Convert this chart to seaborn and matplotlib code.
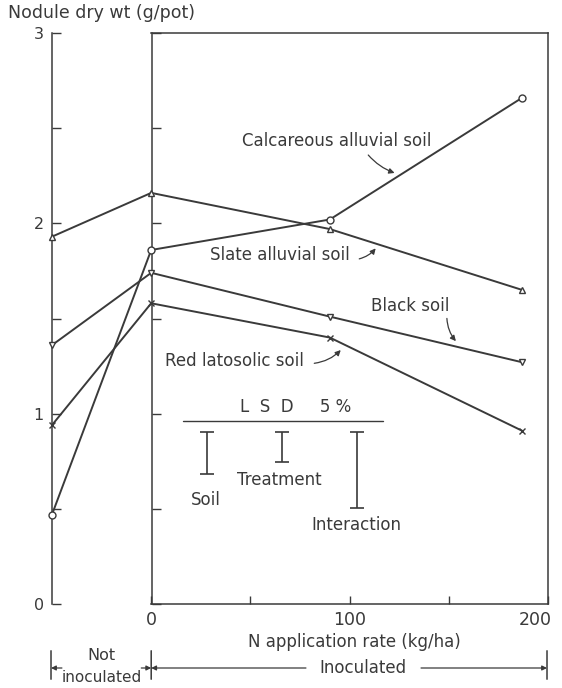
import numpy as np
import pandas as pd
import matplotlib
matplotlib.use("Agg")
import matplotlib.pyplot as plt
import matplotlib.transforms as mtrans
import seaborn as sns

# ---------------- data ----------------
n_rate = [-50, 0, 90, 187]          # -50 = not inoculated
calcareous = [0.47, 1.86, 2.02, 2.66]
slate = [1.93, 2.16, 1.97, 1.65]
black = [1.36, 1.74, 1.51, 1.27]
red = [0.94, 1.58, 1.40, 0.91]
soils = ["Calcareous alluvial soil", "Slate alluvial soil", "Black soil", "Red latosolic soil"]
soil_markers = ["o", "^", "v", "x"]

lsd_names = ["Soil", "Treatment", "Interaction"]
lsd_values = [0.22, 0.16, 0.40]

y_ticks = [0, 0.5, 1, 1.5, 2, 2.5, 3]
y_ticklabels = ["0", "", "1", "", "2", "", "3"]
x_ticks = [0, 50, 100, 150, 200]
x_ticklabels = ["0", "", "100", "", "200"]

rows = []
for name, vals in zip(soils, [calcareous, slate, black, red]):
    for x, v in zip(n_rate, vals):
        rows.append({"N": x, "wt": v, "soil": name})
df = pd.DataFrame(rows)

# ---------------- style ----------------
sns.set_style("white")
plt.rcParams["font.family"] = ["DejaVu Sans"]
INK = "#3a3a3a"
FS = 12

fig = plt.figure(figsize=(5.62, 6.88), dpi=100)
W, H = 562, 688
ax = fig.add_axes([52 / W, 84 / H, 496 / W, 571 / H])

for name, mk in zip(soils, soil_markers):
    sub = df[df["soil"] == name]
    sns.lineplot(data=sub, x="N", y="wt", color=INK, marker=mk,
                 sort=True, legend=False, ax=ax, lw=1.4,
                 markersize=5, mfc="white", mec=INK, mew=1.0, zorder=3,
                 clip_on=False)

ax.set_xlim(-50, 200)
ax.set_ylim(0, 3)
for sp in ax.spines.values():
    sp.set_color(INK)
    sp.set_linewidth(1.1)
ax.spines["bottom"].set_bounds(0, 200)
ax.spines["top"].set_bounds(0, 200)

ax.set_yticks(y_ticks)
ax.set_yticklabels(y_ticklabels)
ax.set_xticks(x_ticks)
ax.set_xticklabels(x_ticklabels)
ax.tick_params(axis="y", left=True, direction="in", length=6.5, width=1.0,
               color=INK, labelsize=11.5, labelcolor=INK, pad=6)
ax.tick_params(axis="x", bottom=True, direction="in", length=6, width=1.0,
               color=INK, labelsize=12.5, labelcolor=INK, pad=5)
labs = ax.get_xticklabels()
labs[-1].set_horizontalalignment("right")
labs[-1].set_transform(labs[-1].get_transform() +
                       mtrans.ScaledTranslation(4 / 100, 0, fig.dpi_scale_trans))
ax.set_xlabel("")
ax.set_ylabel("")

# inner axis at N = 0 (inoculated box)
ax2 = fig.add_axes([152 / W, 84 / H, 396 / W, 571 / H], sharey=ax)
ax2.patch.set_visible(False)
for k in ["top", "right", "bottom"]:
    ax2.spines[k].set_visible(False)
ax2.spines["left"].set_color(INK)
ax2.spines["left"].set_linewidth(1.1)
ax2.set_xticks([])
ax2.tick_params(axis="y", left=True, direction="in", length=6.5, width=1.0,
                color=INK, labelleft=False)
ax2.set_zorder(0)
ax.set_zorder(1)
ax.patch.set_visible(False)

# ---------------- curve labels ----------------
tkw = dict(color=INK, fontsize=FS, ha="center", va="center")
akw = dict(arrowstyle="-|>", color=INK, lw=0.9, mutation_scale=8)
ax.annotate("", xy=(124, 2.26), xytext=(108.5, 2.37),
            arrowprops=dict(connectionstyle="arc3,rad=0.15", **akw))
ax.text(93.5, 2.43, soils[0], **tkw)
ax.annotate("", xy=(114, 1.88), xytext=(103.5, 1.81),
            arrowprops=dict(connectionstyle="arc3,rad=0.2", **akw))
ax.text(65, 1.833, soils[1], **tkw)
ax.annotate("", xy=(154.5, 1.37), xytext=(149, 1.515),
            arrowprops=dict(connectionstyle="arc3,rad=0.2", **akw))
ax.text(130.5, 1.566, soils[2], **tkw)
ax.annotate("", xy=(96.5, 1.345), xytext=(80.8, 1.263),
            arrowprops=dict(connectionstyle="arc3,rad=0.2", **akw))
ax.text(42, 1.279, soils[3], **tkw)

# ---------------- LSD block ----------------
ax.text(73, 1.035, "L  S  D     5 %", **tkw)
ax.plot([16, 117], [0.963, 0.963], color=INK, lw=1.0)
lsd_x = [28, 65.7, 103.5]
top = 0.904
for xv, val in zip(lsd_x, lsd_values):
    ax.errorbar(xv, top - val / 2, yerr=val / 2, fmt="none", ecolor=INK,
                elinewidth=1.2, capsize=5, capthick=1.2)
ax.text(27.3, top - lsd_values[0] - 0.14, lsd_names[0], **tkw)
ax.text(64.6, top - lsd_values[1] - 0.09, lsd_names[1], **tkw)
ax.text(103.5, top - lsd_values[2] - 0.09, lsd_names[2], **tkw)

# ---------------- axis titles ----------------
fig.text(8 / W, 1 - 13 / H, "Nodule dry wt (g/pot)", color=INK, fontsize=12.5,
         ha="left", va="center")
ax.annotate("N application rate (kg/ha)", xy=(102.5, 1 - 642 / H),
            xycoords=("data", "figure fraction"), color=INK, fontsize=FS,
            ha="center", va="center", annotation_clip=False)

# ---------------- bottom bracket ----------------
bc = ("data", "figure fraction")
yb0, yb1 = 1 - 682 / H, 1 - 648 / H
ya = 1 - 668 / H
for xv in [-50.5, 0, 199.5]:
    ax.annotate("", xy=(xv, yb0), xytext=(xv, yb1), xycoords=bc, textcoords=bc,
                arrowprops=dict(arrowstyle="-", color=INK, lw=1.1),
                annotation_clip=False)
sakw = dict(arrowstyle="-|>", color=INK, lw=0.9, mutation_scale=7,
            shrinkA=0, shrinkB=0)
ax.annotate("", xy=(-50.5, ya), xytext=(-45, ya), xycoords=bc, textcoords=bc,
            arrowprops=sakw, annotation_clip=False)
ax.annotate("", xy=(0, ya), xytext=(-5, ya), xycoords=bc, textcoords=bc,
            arrowprops=sakw, annotation_clip=False)
ax.annotate("", xy=(0, ya), xytext=(78, ya), xycoords=bc, textcoords=bc,
            arrowprops=sakw, annotation_clip=False)
ax.annotate("", xy=(199.5, ya), xytext=(136, ya), xycoords=bc, textcoords=bc,
            arrowprops=sakw, annotation_clip=False)
ax.annotate("Not", xy=(-25, 1 - 656 / H), xycoords=bc, color=INK, fontsize=11.5,
            ha="center", va="center", annotation_clip=False)
ax.annotate("inoculated", xy=(-25, 1 - 677 / H), xycoords=bc, color=INK,
            fontsize=11, ha="center", va="center", annotation_clip=False)
ax.annotate("Inoculated", xy=(106.5, ya), xycoords=bc, color=INK, fontsize=FS,
            ha="center", va="center", annotation_clip=False)

fig.savefig("out.png", dpi=100, facecolor="white")
